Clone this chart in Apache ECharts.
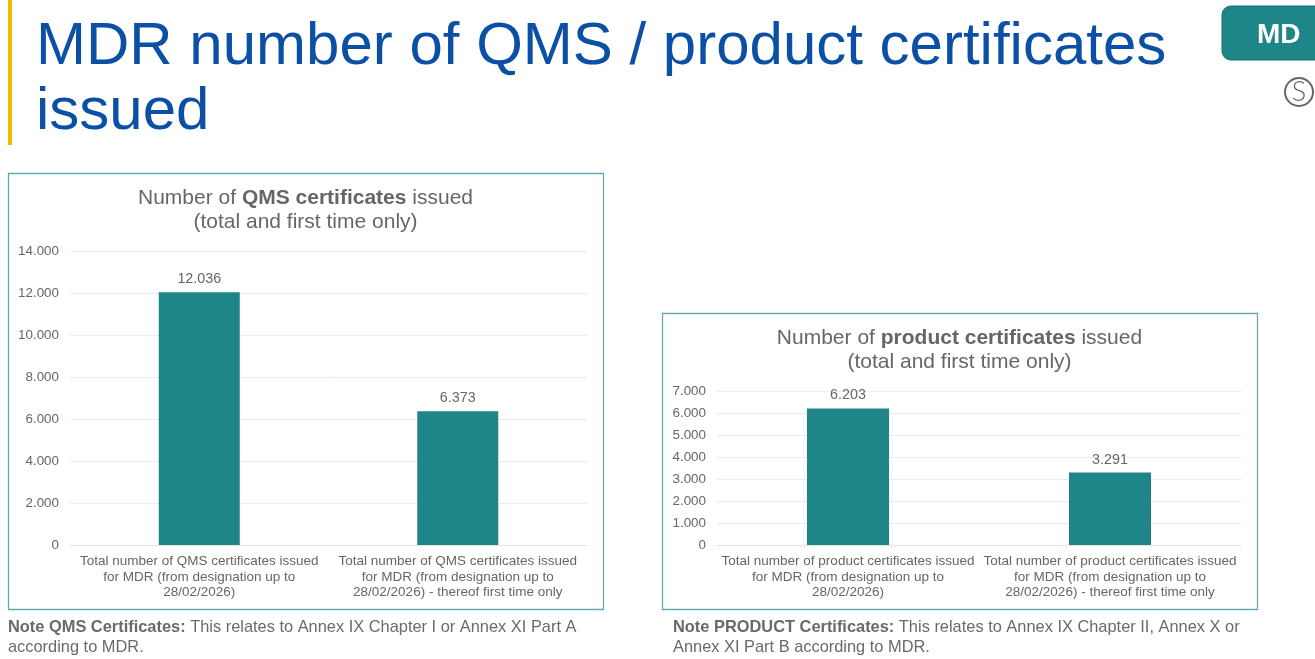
<!DOCTYPE html>
<html><head><meta charset="utf-8">
<style>html,body{margin:0;padding:0;background:#fff}#c{width:1315px;height:659px}</style>
<script src="https://cdn.jsdelivr.net/npm/echarts@6/dist/echarts.min.js"></script>
</head><body><div id="c"></div>
<script>
const qmsCategories = ["Total number of QMS certificates issued\nfor MDR (from designation up to\n28/02/2026)", "Total number of QMS certificates issued\nfor MDR (from designation up to\n28/02/2026) - thereof first time only"];
const qmsValues = [12036, 6373];
const productCategories = ["Total number of product certificates issued\nfor MDR (from designation up to\n28/02/2026)", "Total number of product certificates issued\nfor MDR (from designation up to\n28/02/2026) - thereof first time only"];
const productValues = [6203, 3291];

const FONT = '"Liberation Sans", Arial, sans-serif';
const TEAL = '#1e8588', GREY = '#666666', BLUE = '#0b50a4';
const dotted = v => String(v).replace(/\B(?=(\d{3})+$)/g, '.');

function chartTitle(left, top, word) {
  return {
    left, top, textAlign: 'center',
    text: `{n|Number of }{b|${word}}{n| issued}\n{n|(total and first time only)}`,
    textStyle: { fontFamily: FONT, fontWeight: 'normal', rich: {
      n: { fontFamily: FONT, fontSize: 21, color: GREY, fontWeight: 'normal', lineHeight: 24 },
      b: { fontFamily: FONT, fontSize: 21, color: GREY, fontWeight: 'bold', lineHeight: 24 }
    } }
  };
}
function xAxis(i, data) {
  return { gridIndex: i, type: 'category', data,
    axisTick: { show: false },
    axisLine: { lineStyle: { color: '#e4e4e4', width: 1 } },
    axisLabel: { interval: 0, fontFamily: FONT, fontSize: 13.5, color: GREY, lineHeight: 15.5, margin: 9 } };
}
function yAxis(i, max, interval) {
  return { gridIndex: i, type: 'value', min: 0, max, interval,
    axisLine: { show: false }, axisTick: { show: false },
    splitLine: { lineStyle: { color: '#ebebeb', width: 1 } },
    axisLabel: { fontFamily: FONT, fontSize: 13.4, color: GREY, margin: 11, formatter: dotted } };
}
function barSeries(i, data, width) {
  return { type: 'bar', xAxisIndex: i, yAxisIndex: i, data, barWidth: width,
    itemStyle: { color: TEAL },
    label: { show: true, position: 'top', distance: 6, fontFamily: FONT, fontSize: 14.3, color: GREY, formatter: p => dotted(p.value) } };
}
function frame(x, y, width, height) {
  return { type: 'rect', shape: { x, y, width, height }, style: { fill: 'none', stroke: '#64abad', lineWidth: 1.3 } , z: 0};
}
function note(x, y, bold, rest, second) {
  return { type: 'text', x, y, style: { fontFamily: FONT, fontSize: 16.4, lineHeight: 20, fill: '#6a6a6a',
    text: `{b|${bold}}{n|${rest}}\n{n|${second}}`,
    rich: { b: { fontFamily: FONT, fontSize: 16.4, fontWeight: 'bold', fill: '#6a6a6a', lineHeight: 20 },
            n: { fontFamily: FONT, fontSize: 16.4, fill: '#6a6a6a', lineHeight: 20 } } } };
}

const chart = echarts.init(document.getElementById('c'), null, { renderer: 'canvas' });
chart.setOption({
  animation: false,
  backgroundColor: '#fff',
  title: [chartTitle(300.5, 181, 'QMS certificates'), chartTitle(954.5, 321, 'product certificates')],
  grid: [
    { left: 70, top: 251, width: 517, height: 294 },
    { left: 717, top: 391, width: 524, height: 154 }
  ],
  xAxis: [xAxis(0, qmsCategories), xAxis(1, productCategories)],
  yAxis: [yAxis(0, 14000, 2000), yAxis(1, 7000, 1000)],
  series: [barSeries(0, qmsValues, 81), barSeries(1, productValues, 82)],
  graphic: [
    { type: 'rect', shape: { x: 8, y: 0, width: 4, height: 145 }, style: { fill: '#f5b800' } },
    { type: 'text', x: 36, y: 15, style: { text: 'MDR number of QMS / product certificates\nissued', fontFamily: FONT, fontSize: 60, lineHeight: 65, fill: BLUE } },
    frame(8.5, 173.5, 595, 436),
    frame(662.5, 313.5, 595, 296),
    note(8, 617, 'Note QMS Certificates: ', 'This relates to Annex IX Chapter I or Annex XI Part A', 'according to MDR.'),
    note(673, 617, 'Note PRODUCT Certificates: ', 'This relates to Annex IX Chapter II, Annex X or', 'Annex XI Part B according to MDR.'),
    { type: 'rect', shape: { x: 1222, y: 6, width: 110, height: 54, r: 9 }, style: { fill: TEAL, stroke: '#176a6c', lineWidth: 1 } },
    { type: 'text', x: 1257, y: 21, style: { text: 'MD', fontFamily: FONT, fontSize: 28, fontWeight: 'bold', fill: '#fff' } },
    { type: 'circle', shape: { cx: 1299, cy: 92, r: 14 }, style: { fill: '#fff', stroke: '#666', lineWidth: 2 } },
    { type: 'text', x: 1299, y: 92, style: { text: 'S', align: 'center', verticalAlign: 'middle', fontFamily: 'Lato, "Liberation Sans", sans-serif', fontWeight: 300, fontSize: 27, fill: '#666' } }
  ]
});
</script></body></html>
